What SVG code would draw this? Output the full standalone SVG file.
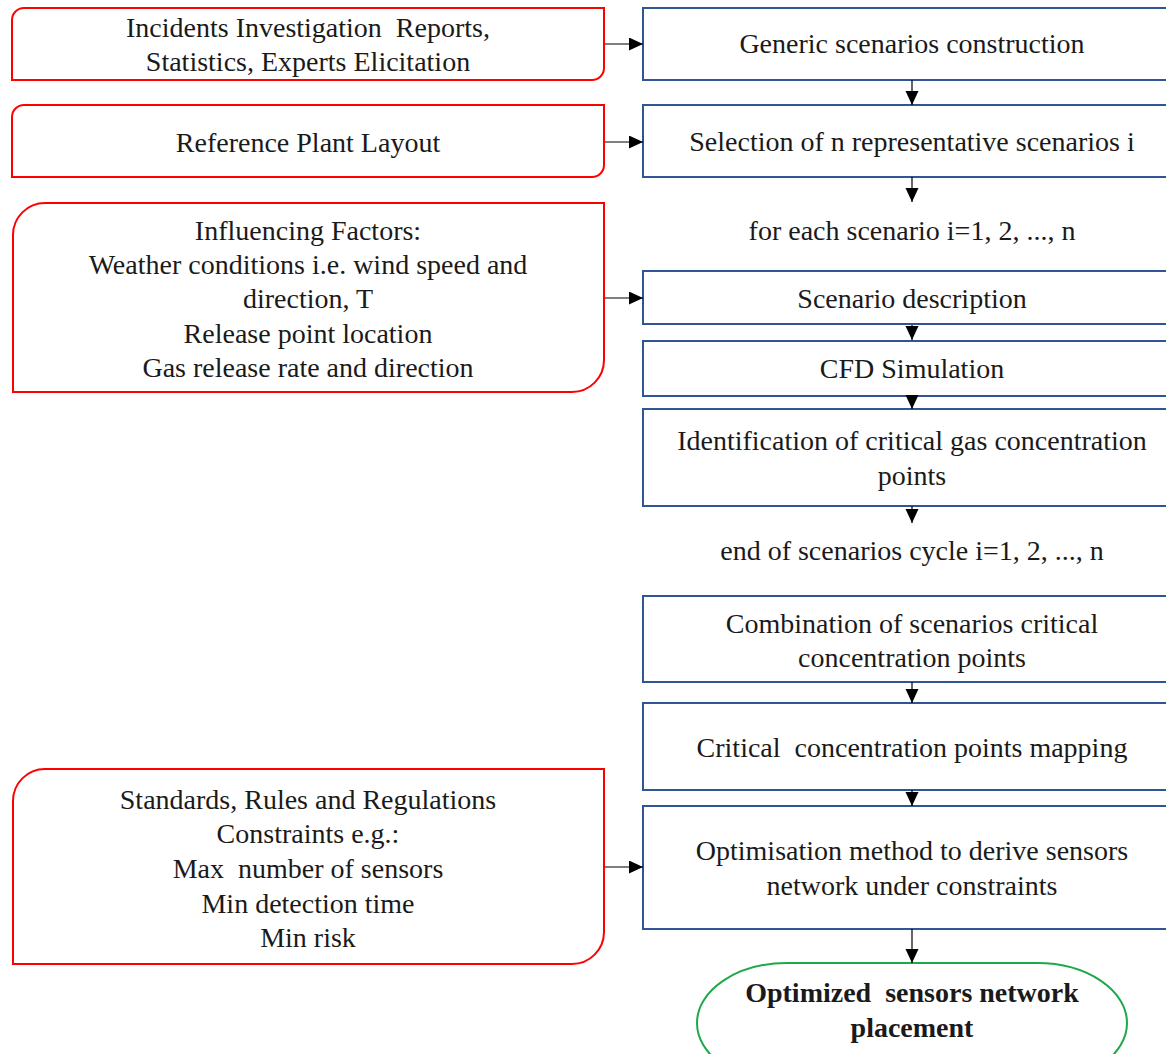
<svg xmlns="http://www.w3.org/2000/svg" width="1166" height="1054" viewBox="0 0 1166 1054">
<style>
text{font-family:"Liberation Serif","Times New Roman",serif;font-size:28px;fill:#1a1a1a;text-anchor:middle;white-space:pre}
.red{fill:#fff;stroke:#ff0000;stroke-width:2}
.blue{fill:#fff;stroke:#2f5597;stroke-width:2}
.green{fill:#fff;stroke:#1fa84a;stroke-width:2}
.c{stroke:#000;stroke-width:1.2;fill:none;marker-end:url(#ah)}
.b{font-weight:bold}
</style>
<defs>
<marker id="ah" markerUnits="userSpaceOnUse" markerWidth="15" markerHeight="14" refX="14" refY="6.5" orient="auto">
<path d="M0,0 L14,6.5 L0,13 Z" fill="#000"/>
</marker>
</defs>
<rect width="1166" height="1054" fill="#fff"/>
<g id="in1">
<path class="red" d="M12,20 A12,12 0 0 1 24,8 H604 V68 A12,12 0 0 1 592,80 H12 Z"/>
<text x="308" y="37" xml:space="preserve">Incidents Investigation  Reports,</text>
<text x="308" y="71">Statistics, Experts Elicitation</text>
</g>
<g id="in2">
<path class="red" d="M12,117 A12,12 0 0 1 24,105 H604 V165 A12,12 0 0 1 592,177 H12 Z"/>
<text x="308" y="152">Reference Plant Layout</text>
</g>
<g id="in3">
<path class="red" d="M13,235 A32,32 0 0 1 45,203 H604 V360 A32,32 0 0 1 572,392 H13 Z"/>
<text x="308" y="240">Influencing Factors:</text>
<text x="308" y="274">Weather conditions i.e. wind speed and</text>
<text x="308" y="308">direction, T</text>
<text x="308" y="343">Release point location</text>
<text x="308" y="377">Gas release rate and direction</text>
</g>
<g id="in4">
<path class="red" d="M13,801 A32,32 0 0 1 45,769 H604 V932 A32,32 0 0 1 572,964 H13 Z"/>
<text x="308" y="809">Standards, Rules and Regulations</text>
<text x="308" y="843">Constraints e.g.:</text>
<text x="308" y="878" xml:space="preserve">Max  number of sensors</text>
<text x="308" y="913">Min detection time</text>
<text x="308" y="947">Min risk</text>
</g>
<g id="s1">
<rect class="blue" x="643" y="8" width="540" height="72"/>
<text x="912" y="53">Generic scenarios construction</text>
</g>
<g id="s2">
<rect class="blue" x="643" y="105" width="540" height="72"/>
<text x="912" y="151">Selection of n representative scenarios i</text>
</g>
<g id="loopstart">
<text x="912" y="240">for each scenario i=1, 2, ..., n</text>
</g>
<g id="s3">
<rect class="blue" x="643" y="271" width="540" height="53"/>
<text x="912" y="308">Scenario description</text>
</g>
<g id="s4">
<rect class="blue" x="643" y="341" width="540" height="55"/>
<text x="912" y="378">CFD Simulation</text>
</g>
<g id="s5">
<rect class="blue" x="643" y="409" width="540" height="97"/>
<text x="912" y="450">Identification of critical gas concentration</text>
<text x="912" y="485">points</text>
</g>
<g id="loopend">
<text x="912" y="560">end of scenarios cycle i=1, 2, ..., n</text>
</g>
<g id="s6">
<rect class="blue" x="643" y="596" width="540" height="86"/>
<text x="912" y="633">Combination of scenarios critical</text>
<text x="912" y="667">concentration points</text>
</g>
<g id="s7">
<rect class="blue" x="643" y="703" width="540" height="87"/>
<text x="912" y="757" xml:space="preserve">Critical  concentration points mapping</text>
</g>
<g id="s8">
<rect class="blue" x="643" y="806" width="540" height="123"/>
<text x="912" y="860">Optimisation method to derive sensors</text>
<text x="912" y="895">network under constraints</text>
</g>
<g id="result">
<rect class="green" x="697" y="963" width="430" height="120" rx="90" ry="60"/>
<text class="b" x="912" y="1002" xml:space="preserve">Optimized  sensors network</text>
<text class="b" x="912" y="1037">placement</text>
</g>
<g id="connectors">
<line class="c" x1="605" y1="44" x2="643" y2="44"/>
<line class="c" x1="605" y1="142" x2="643" y2="142"/>
<line class="c" x1="605" y1="298" x2="643" y2="298"/>
<line class="c" x1="605" y1="867" x2="643" y2="867"/>
<line class="c" x1="912" y1="80" x2="912" y2="105"/>
<line class="c" x1="912" y1="177" x2="912" y2="202"/>
<line class="c" x1="912" y1="325" x2="912" y2="340"/>
<line class="c" x1="912" y1="396" x2="912" y2="409"/>
<line class="c" x1="912" y1="506" x2="912" y2="523"/>
<line class="c" x1="912" y1="682" x2="912" y2="703"/>
<line class="c" x1="912" y1="790" x2="912" y2="806"/>
<line class="c" x1="912" y1="929" x2="912" y2="963"/>
</g>
</svg>
